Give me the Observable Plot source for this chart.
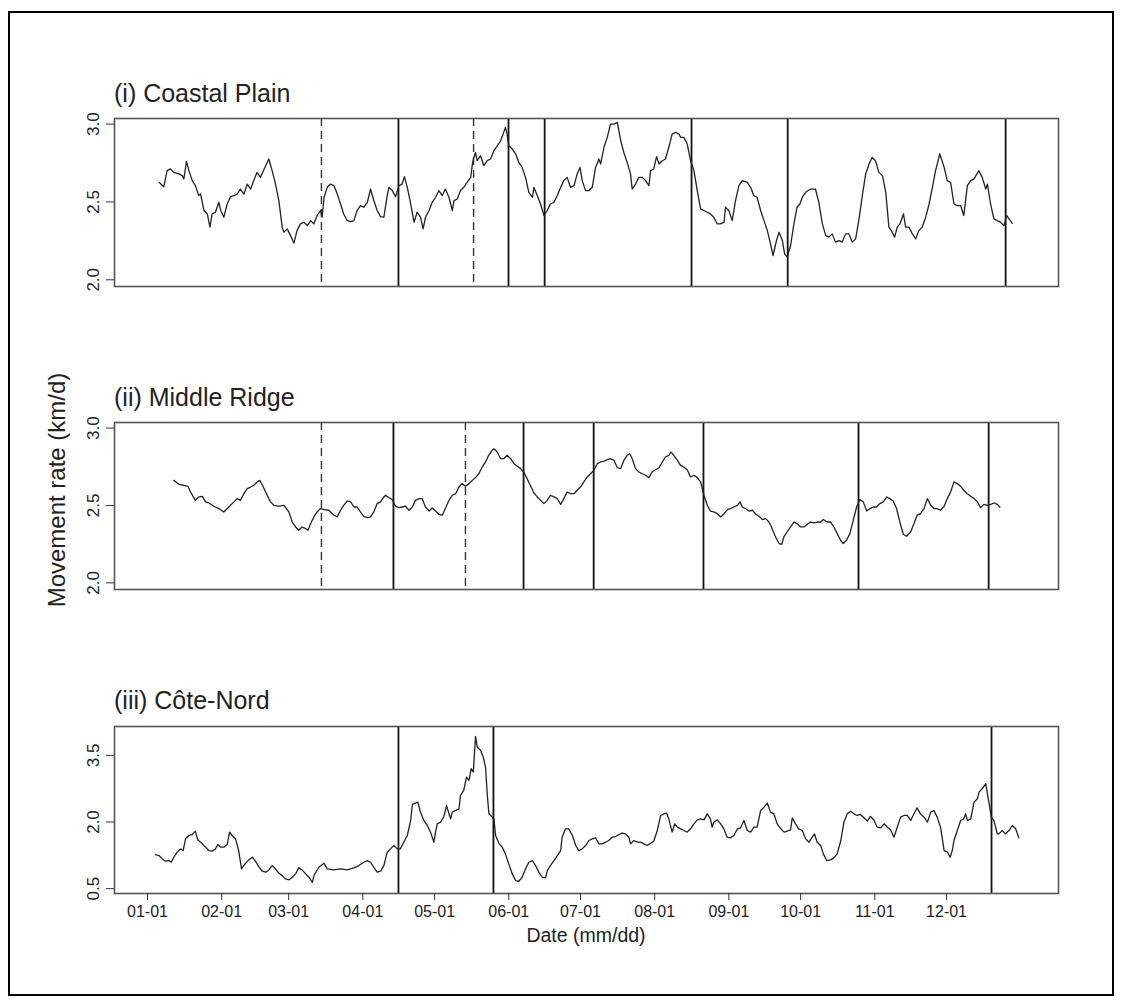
<!DOCTYPE html>
<html>
<head>
<meta charset="utf-8">
<script src="https://cdn.jsdelivr.net/npm/d3@7"></script>
<script src="https://cdn.jsdelivr.net/npm/@observablehq/plot@0.6"></script>
<style>
  html, body { margin: 0; padding: 0; background: #fff; }
  #page { position: relative; width: 1122px; height: 1007px; overflow: hidden; background: #fff;
          font-family: "Liberation Sans", Arial, Helvetica, sans-serif; color: #222; }
  #border { position: absolute; left: 8px; top: 11px; width: 1106px; height: 985px;
            border: 2px solid #000; box-sizing: border-box; }
  .panel { position: absolute; left: 0; }
  #overlay { position: absolute; left: 0; top: 0; }
</style>
</head>
<body>
<div id="page">
  <div id="border"></div>
  <div class="panel" id="p1" style="top:0px"></div>
  <div class="panel" id="p2" style="top:300px"></div>
  <div class="panel" id="p3" style="top:600px"></div>
  <svg id="overlay" width="1122" height="1007" font-family="Liberation Sans, Arial, Helvetica, sans-serif" fill="#222">
    <text x="114" y="102" font-size="25">(i) Coastal Plain</text>
    <text x="114" y="406" font-size="25">(ii) Middle Ridge</text>
    <text x="114" y="709" font-size="25">(iii) Côte-Nord</text>
    <text transform="translate(65,490) rotate(-90)" text-anchor="middle" font-size="24">Movement rate (km/d)</text>
    <text x="586" y="942" text-anchor="middle" font-size="19.5">Date (mm/dd)</text>
  </svg>
</div>
<script>
// ---- Data (day of year, Jan 1 = 0; movement rate km/d) ----
const monthDays = [0, 31, 59, 90, 120, 151, 181, 212, 243, 273, 304, 334];
const monthLabels = ["01-01","02-01","03-01","04-01","05-01","06-01","07-01","08-01","09-01","10-01","11-01","12-01"];

const ticksRidge = [2.0, 2.5, 3.0];
const ticksCote = [0.5, 2.0, 3.5];

const coastal = [[4.8,2.626],[6.8,2.598],[8.2,2.701],[9.6,2.712],[11.0,2.690],[13.1,2.680],[14.5,2.669],[15.2,2.648],[16.3,2.761],[17.3,2.701],[18.7,2.637],[20.0,2.605],[21.4,2.541],[22.2,2.551],[23.6,2.445],[25.0,2.423],[26.1,2.338],[27.0,2.423],[28.4,2.434],[29.8,2.498],[30.6,2.445],[31.9,2.402],[33.3,2.487],[34.7,2.534],[36.1,2.541],[37.5,2.551],[38.8,2.583],[40.3,2.551],[41.7,2.615],[43.1,2.583],[44.4,2.637],[45.8,2.690],[47.2,2.658],[49.4,2.733],[50.7,2.776],[52.1,2.701],[53.5,2.615],[54.9,2.509],[56.3,2.338],[57.0,2.306],[58.4,2.327],[59.8,2.284],[61.2,2.235],[62.5,2.316],[63.9,2.359],[65.4,2.370],[66.8,2.348],[68.2,2.380],[69.5,2.359],[70.9,2.413],[72.3,2.445],[73.0,2.402],[73.8,2.530],[75.1,2.594],[76.5,2.615],[77.9,2.605],[79.3,2.551],[80.7,2.487],[82.0,2.423],[83.5,2.380],[84.9,2.374],[86.3,2.380],[87.6,2.445],[89.0,2.477],[90.4,2.466],[91.9,2.498],[93.2,2.583],[94.6,2.509],[96.0,2.445],[97.4,2.406],[98.8,2.402],[100.2,2.541],[100.9,2.594],[102.3,2.573],[103.7,2.534],[105.1,2.605],[106.4,2.615],[107.4,2.663],[108.6,2.594],[110.0,2.487],[111.4,2.370],[112.7,2.434],[114.1,2.402],[115.2,2.327],[116.2,2.402],[117.7,2.445],[119.0,2.498],[120.4,2.530],[121.8,2.573],[123.2,2.541],[124.5,2.583],[126.0,2.530],[127.4,2.445],[128.1,2.509],[129.5,2.519],[130.8,2.573],[132.2,2.594],[133.6,2.626],[135.1,2.658],[135.8,2.744],[136.4,2.786],[137.1,2.818],[137.8,2.765],[139.2,2.797],[140.6,2.733],[142.0,2.765],[143.4,2.776],[144.8,2.829],[146.2,2.861],[147.6,2.893],[148.9,2.947],[149.6,2.979],[150.3,2.936],[151.0,2.861],[152.5,2.840],[153.9,2.808],[155.2,2.754],[156.6,2.722],[158.0,2.658],[159.4,2.562],[160.9,2.530],[161.5,2.594],[162.9,2.541],[164.3,2.487],[165.7,2.412],[167.1,2.445],[168.4,2.487],[169.9,2.498],[171.3,2.541],[172.7,2.594],[174.0,2.637],[175.4,2.658],[176.8,2.594],[178.3,2.605],[179.6,2.680],[180.8,2.722],[181.7,2.637],[183.1,2.573],[184.5,2.573],[185.9,2.594],[187.3,2.722],[188.7,2.776],[189.4,2.744],[190.8,2.851],[192.2,2.915],[193.5,3.000],[195.0,3.000],[196.4,3.011],[197.8,2.893],[199.1,2.818],[200.5,2.754],[201.9,2.680],[202.6,2.583],[204.0,2.615],[205.4,2.658],[206.8,2.658],[208.2,2.637],[209.6,2.605],[210.3,2.701],[211.6,2.712],[212.8,2.791],[213.8,2.744],[215.2,2.765],[216.5,2.776],[217.9,2.851],[219.3,2.936],[220.8,2.947],[222.2,2.936],[222.8,2.915],[224.2,2.915],[225.6,2.872],[227.0,2.765],[228.4,2.701],[229.8,2.573],[231.2,2.455],[232.6,2.445],[234.0,2.434],[235.3,2.423],[236.7,2.402],[238.2,2.359],[239.6,2.359],[241.0,2.370],[241.6,2.466],[243.0,2.445],[244.4,2.380],[245.8,2.509],[247.2,2.605],[248.6,2.637],[250.7,2.626],[252.1,2.594],[253.4,2.541],[254.8,2.530],[256.3,2.445],[257.7,2.380],[259.1,2.316],[260.4,2.231],[261.5,2.156],[262.9,2.252],[264.0,2.306],[265.4,2.252],[266.3,2.167],[267.4,2.145],[268.8,2.220],[270.2,2.359],[271.5,2.466],[272.7,2.487],[273.7,2.530],[275.1,2.562],[277.2,2.583],[279.2,2.583],[280.6,2.498],[282.1,2.359],[283.5,2.284],[284.8,2.274],[286.2,2.295],[287.6,2.242],[289.0,2.252],[290.4,2.242],[291.8,2.295],[293.2,2.295],[294.6,2.242],[296.0,2.263],[297.3,2.380],[298.8,2.541],[300.2,2.680],[301.6,2.744],[302.9,2.786],[304.3,2.765],[305.7,2.690],[307.2,2.669],[308.6,2.562],[309.9,2.338],[311.3,2.306],[312.3,2.274],[313.4,2.338],[314.5,2.359],[316.0,2.423],[316.9,2.338],[318.3,2.338],[319.7,2.295],[321.1,2.263],[322.4,2.316],[323.8,2.338],[325.3,2.402],[326.7,2.487],[328.1,2.594],[329.4,2.701],[331.2,2.808],[333.0,2.722],[334.3,2.637],[335.7,2.626],[337.1,2.487],[338.5,2.477],[339.9,2.477],[341.2,2.412],[342.7,2.605],[344.1,2.637],[345.5,2.648],[347.5,2.701],[348.9,2.658],[350.4,2.583],[351.1,2.615],[352.4,2.487],[353.8,2.391],[355.2,2.380],[356.6,2.370],[358.0,2.348],[359.2,2.412],[360.1,2.391],[361.5,2.363]];

const ridge = [[11.0,2.662],[13.1,2.637],[15.2,2.630],[16.9,2.624],[18.0,2.587],[20.0,2.533],[21.4,2.555],[22.9,2.559],[24.3,2.523],[25.6,2.516],[27.7,2.495],[29.8,2.480],[31.9,2.458],[34.0,2.490],[36.1,2.523],[37.5,2.544],[38.8,2.533],[40.3,2.576],[41.7,2.609],[43.1,2.619],[44.4,2.630],[45.8,2.652],[46.9,2.662],[48.4,2.619],[50.0,2.566],[51.4,2.523],[52.8,2.501],[54.9,2.495],[57.0,2.501],[59.1,2.458],[60.5,2.393],[61.9,2.361],[63.2,2.340],[64.6,2.361],[66.1,2.350],[67.1,2.340],[68.2,2.383],[69.5,2.426],[70.9,2.458],[72.3,2.480],[73.8,2.473],[75.8,2.469],[77.9,2.437],[79.3,2.426],[80.7,2.469],[82.0,2.501],[83.5,2.529],[84.9,2.523],[86.3,2.490],[87.6,2.490],[89.0,2.458],[90.4,2.430],[91.9,2.421],[93.2,2.426],[94.6,2.458],[96.0,2.512],[97.4,2.523],[98.8,2.555],[99.5,2.566],[100.9,2.551],[102.3,2.538],[103.7,2.495],[105.1,2.486],[106.4,2.490],[107.8,2.495],[109.3,2.469],[110.7,2.490],[112.0,2.533],[113.4,2.544],[114.8,2.544],[116.2,2.490],[117.7,2.464],[119.0,2.484],[120.4,2.464],[121.8,2.443],[123.2,2.437],[124.5,2.480],[126.0,2.533],[127.4,2.566],[128.8,2.576],[130.2,2.619],[131.5,2.641],[132.9,2.624],[134.4,2.641],[135.8,2.662],[137.1,2.680],[138.5,2.705],[139.9,2.748],[141.3,2.781],[142.6,2.824],[144.1,2.856],[144.8,2.867],[146.2,2.845],[147.6,2.802],[148.9,2.802],[150.3,2.824],[151.8,2.802],[153.2,2.770],[154.6,2.753],[155.9,2.738],[157.3,2.716],[158.7,2.673],[160.2,2.624],[161.5,2.581],[162.9,2.555],[164.3,2.533],[165.7,2.512],[167.1,2.533],[168.4,2.566],[169.9,2.555],[171.3,2.544],[172.7,2.507],[174.0,2.544],[175.4,2.587],[176.8,2.576],[178.3,2.576],[179.6,2.598],[181.0,2.619],[182.4,2.652],[183.8,2.684],[185.2,2.705],[186.6,2.727],[188.0,2.770],[189.4,2.781],[190.8,2.787],[192.2,2.796],[193.5,2.802],[195.0,2.791],[196.4,2.744],[197.8,2.738],[199.1,2.791],[200.5,2.824],[201.6,2.834],[202.6,2.802],[204.0,2.738],[205.4,2.716],[206.8,2.705],[208.2,2.695],[209.6,2.680],[210.9,2.716],[212.4,2.731],[213.8,2.744],[215.2,2.781],[216.5,2.813],[217.9,2.824],[218.9,2.845],[220.0,2.824],[221.5,2.791],[222.8,2.759],[224.2,2.748],[225.6,2.731],[227.0,2.684],[228.4,2.695],[229.8,2.680],[231.2,2.652],[232.6,2.566],[234.0,2.501],[235.3,2.464],[236.7,2.458],[238.2,2.447],[239.6,2.426],[241.0,2.447],[242.4,2.473],[243.7,2.480],[245.1,2.490],[246.6,2.501],[247.7,2.523],[248.6,2.490],[250.0,2.480],[251.4,2.464],[252.8,2.469],[254.1,2.447],[255.6,2.430],[257.0,2.409],[258.4,2.415],[259.8,2.393],[261.1,2.350],[262.5,2.297],[264.0,2.254],[265.1,2.249],[266.1,2.301],[267.4,2.329],[268.8,2.361],[270.2,2.393],[271.5,2.383],[273.0,2.361],[274.4,2.361],[275.8,2.378],[277.1,2.393],[278.5,2.387],[279.9,2.393],[281.4,2.393],[282.5,2.409],[284.1,2.393],[285.5,2.393],[286.9,2.361],[288.3,2.318],[289.7,2.275],[290.8,2.254],[292.2,2.275],[293.6,2.318],[295.0,2.404],[296.4,2.490],[297.7,2.538],[299.2,2.523],[300.6,2.464],[302.0,2.480],[303.3,2.490],[304.7,2.490],[306.1,2.512],[307.6,2.523],[309.0,2.555],[310.3,2.544],[311.7,2.529],[313.1,2.480],[314.5,2.393],[315.9,2.314],[317.3,2.301],[319.0,2.329],[320.4,2.383],[321.7,2.437],[323.1,2.447],[324.6,2.480],[326.0,2.544],[327.4,2.501],[328.7,2.480],[330.1,2.480],[331.5,2.469],[333.0,2.495],[334.3,2.544],[335.7,2.587],[337.1,2.652],[338.5,2.641],[339.9,2.624],[341.2,2.598],[342.7,2.576],[344.1,2.559],[345.5,2.544],[346.9,2.523],[348.2,2.486],[349.6,2.507],[351.1,2.501],[352.5,2.507],[353.9,2.516],[355.2,2.507],[356.3,2.490]];

const cote = [[3.3,1.267],[4.8,1.245],[6.2,1.169],[7.5,1.117],[8.9,1.132],[9.9,1.094],[11.0,1.207],[12.4,1.320],[13.8,1.395],[14.9,1.357],[15.9,1.621],[17.3,1.696],[18.7,1.718],[20.0,1.794],[21.0,1.598],[22.9,1.508],[24.3,1.433],[25.6,1.357],[27.0,1.342],[28.4,1.395],[29.4,1.493],[30.6,1.433],[31.9,1.433],[33.3,1.493],[34.3,1.771],[35.4,1.696],[36.8,1.621],[38.1,1.357],[39.3,0.944],[41.0,1.072],[42.4,1.147],[43.8,1.207],[45.1,1.117],[46.5,0.997],[48.0,0.891],[49.4,0.869],[50.7,0.921],[52.1,1.019],[53.5,0.944],[54.9,0.846],[56.3,0.793],[57.7,0.718],[59.1,0.696],[60.5,0.756],[61.9,0.831],[63.2,0.966],[64.6,0.921],[66.1,0.831],[67.5,0.756],[68.9,0.642],[69.6,0.800],[71.6,0.981],[73.8,1.072],[75.1,0.944],[77.9,0.921],[80.7,0.944],[83.5,0.921],[86.3,0.966],[88.3,1.019],[90.4,1.094],[91.9,1.132],[93.2,1.094],[94.6,0.981],[96.0,0.869],[97.4,0.891],[98.8,1.019],[100.2,1.320],[101.6,1.395],[103.0,1.470],[104.4,1.395],[105.7,1.395],[107.1,1.545],[108.6,1.696],[110.0,2.034],[110.7,2.395],[112.0,2.425],[113.0,2.448],[114.1,2.222],[115.5,2.034],[117.0,1.921],[118.3,1.771],[119.7,1.545],[120.4,1.771],[121.1,1.959],[122.5,1.997],[123.9,2.124],[125.0,2.372],[126.0,2.184],[126.7,2.072],[127.4,2.222],[128.8,2.260],[130.2,2.297],[130.8,2.598],[132.2,2.711],[133.3,3.011],[134.4,2.936],[135.3,3.200],[136.2,3.124],[137.1,3.929],[137.8,3.688],[139.2,3.613],[140.3,3.463],[141.3,3.237],[142.0,2.636],[142.7,2.185],[144.1,2.109],[144.8,2.072],[145.5,1.696],[146.9,1.520],[148.3,1.432],[149.6,1.282],[151.0,1.056],[152.5,0.831],[153.9,0.680],[155.2,0.665],[156.6,0.756],[158.0,0.944],[159.4,1.094],[160.9,1.131],[162.2,1.019],[163.6,0.868],[165.0,0.756],[166.4,0.741],[167.1,0.906],[168.4,1.019],[169.9,1.131],[171.3,1.244],[172.7,1.357],[173.3,1.658],[174.7,1.846],[176.1,1.846],[177.6,1.695],[179.0,1.470],[180.3,1.357],[181.7,1.395],[183.1,1.470],[184.5,1.583],[185.9,1.620],[187.3,1.643],[188.7,1.507],[190.1,1.507],[191.5,1.545],[192.8,1.583],[194.2,1.658],[195.7,1.673],[197.1,1.718],[198.4,1.748],[199.8,1.733],[201.2,1.658],[201.9,1.507],[203.3,1.583],[204.7,1.545],[206.1,1.545],[207.5,1.507],[208.9,1.470],[210.3,1.523],[211.6,1.568],[213.1,1.808],[214.5,2.147],[215.9,2.184],[217.0,2.199],[217.9,2.071],[219.3,1.771],[220.4,1.959],[221.5,1.883],[222.8,1.846],[224.2,1.808],[225.6,1.771],[227.0,1.846],[228.4,1.959],[229.8,2.049],[231.2,2.071],[232.6,2.049],[234.0,2.184],[235.3,2.071],[236.0,1.883],[236.7,1.996],[238.2,2.049],[239.6,1.959],[240.9,1.846],[242.3,1.658],[243.7,1.643],[245.1,1.695],[246.6,1.846],[247.9,1.868],[249.3,2.034],[250.7,1.808],[252.1,1.771],[253.5,1.883],[254.8,1.883],[256.3,2.259],[257.7,2.334],[259.1,2.425],[260.4,2.222],[261.8,2.184],[263.2,1.959],[264.7,1.846],[266.1,1.771],[267.4,1.793],[268.8,1.823],[269.5,2.094],[270.9,1.959],[272.2,1.846],[273.7,1.808],[275.1,1.620],[276.5,1.545],[277.9,1.658],[278.8,1.733],[279.9,1.545],[281.4,1.470],[282.5,1.282],[283.9,1.131],[285.5,1.147],[286.9,1.192],[288.3,1.282],[289.8,1.583],[291.1,1.996],[292.5,2.184],[293.9,2.244],[295.3,2.184],[296.6,2.147],[298.0,2.169],[299.5,2.094],[300.9,2.019],[302.2,2.124],[303.6,2.049],[305.0,1.883],[306.4,1.868],[307.9,1.959],[309.3,1.883],[310.6,1.823],[312.0,1.658],[313.4,1.883],[314.8,2.109],[316.2,2.147],[317.6,2.147],[319.0,2.034],[320.4,2.184],[321.7,2.319],[323.1,2.184],[324.6,2.109],[326.0,1.996],[327.4,2.222],[328.7,2.259],[330.1,2.109],[331.5,1.883],[333.0,1.357],[334.4,1.320],[335.5,1.207],[336.4,1.357],[337.1,1.583],[338.5,1.808],[339.9,2.034],[341.2,2.071],[342.0,2.184],[342.7,2.034],[344.1,2.071],[345.5,2.447],[346.9,2.522],[347.6,2.673],[348.9,2.748],[350.4,2.861],[351.1,2.635],[351.8,2.410],[352.7,2.109],[353.8,2.034],[355.2,1.733],[355.9,1.733],[357.3,1.808],[358.6,1.733],[360.1,1.808],[361.5,1.921],[362.9,1.846],[364.2,1.643]];

// change-point lines (day of year)
const coastalSolid = [104.9, 150.9, 166.0, 227.4, 267.6, 358.7];
const coastalDashed = [72.7, 136.3];
const ridgeSolid = [102.8, 157.2, 186.5, 232.4, 297.2, 351.6];
const ridgeDashed = [72.7, 132.9];
const coteSolid = [104.9, 144.6, 352.8];
const coteDashed = [];

// ---- Drawing ----
const FONT = "Liberation Sans, Arial, Helvetica, sans-serif";
const X_DOMAIN = [-13.8, 380.8];
const labelByDay = new Map(monthDays.map((d, i) => [d, monthLabels[i]]));

function panel({data, solid, dashed, yDomain, yTicks, height, marginTop, marginBottom, showX}) {
  const marks = [
    Plot.axisY({ticks: yTicks, tickSize: 8, tickFormat: () => "", label: null, stroke: "#333"}),
    Plot.text(yTicks, {y: d => d, text: d => d.toFixed(1), frameAnchor: "left", dx: -16,
      rotate: -90, textAnchor: "middle", lineAnchor: "bottom", fontSize: 17, fill: "#222"}),
    Plot.ruleX(dashed, {x: d => d, stroke: "#333", strokeWidth: 1.4, strokeDasharray: "8,5"}),
    Plot.ruleX(solid, {x: d => d, stroke: "#111", strokeWidth: 1.8}),
    Plot.line(data, {x: d => d[0], y: d => d[1], stroke: "#222", strokeWidth: 1.3, curve: "linear"}),
    Plot.frame({stroke: "#555", strokeWidth: 1.6})
  ];
  if (showX) {
    marks.push(Plot.axisX({ticks: monthDays, tickFormat: d => labelByDay.get(d), tickSize: 7,
      tickPadding: 5, label: null, fontSize: 16, stroke: "#333"}));
  }
  return Plot.plot({
    width: 1122,
    height,
    marginLeft: 114,
    marginRight: 64,
    marginTop,
    marginBottom,
    style: {fontFamily: FONT, fontSize: "16px", color: "#222", background: "transparent", overflow: "visible"},
    x: {domain: X_DOMAIN, axis: showX ? undefined : null},
    y: {domain: yDomain},
    marks
  });
}

try {
  document.getElementById("p1").append(panel({data: coastal, solid: coastalSolid, dashed: coastalDashed,
    yDomain: [1.957, 3.036], yTicks: ticksRidge, height: 300, marginTop: 118, marginBottom: 14, showX: false}));
  document.getElementById("p2").append(panel({data: ridge, solid: ridgeSolid, dashed: ridgeDashed,
    yDomain: [1.957, 3.036], yTicks: ticksRidge, height: 300, marginTop: 122, marginBottom: 11, showX: false}));
  document.getElementById("p3").append(panel({data: cote, solid: coteSolid, dashed: coteDashed,
    yDomain: [0.39, 4.15], yTicks: ticksCote, height: 330, marginTop: 126, marginBottom: 37, showX: true}));
} catch (e) {
  document.body.insertAdjacentHTML("beforeend", "<pre style='color:red'>" + e + "</pre>");
}
</script>
</body>
</html>
